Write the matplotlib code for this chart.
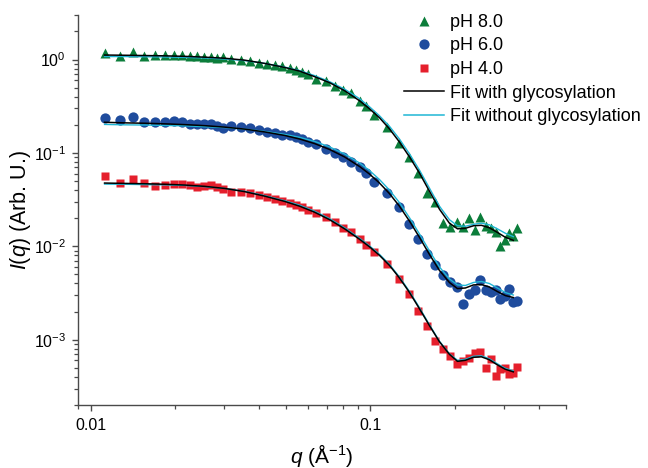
"""SAXS profiles at three pH values with form-factor fits."""

from __future__ import annotations

import matplotlib

matplotlib.use("Agg")
import matplotlib.pyplot as plt
from matplotlib.lines import Line2D
import numpy as np


# measured q grid (1/Angstrom), shared by the three pH series
Q_DATA = [
    0.0112, 0.0127, 0.0141, 0.0155, 0.0169, 0.0184, 0.0198, 0.0212, 0.0226, 0.0240,
    0.0254, 0.0268, 0.0283, 0.0297, 0.0316, 0.0345, 0.0372, 0.0401, 0.0428, 0.0457,
    0.0484, 0.0514, 0.0543, 0.0570, 0.0599, 0.0640, 0.0691, 0.0744, 0.0796, 0.0853,
    0.0914, 0.0965, 0.1033, 0.115, 0.126, 0.137, 0.148, 0.159, 0.170, 0.181,
    0.192, 0.203, 0.214, 0.225, 0.236, 0.247, 0.258, 0.269, 0.280, 0.291,
    0.302, 0.313, 0.324, 0.335,
]

I_PH8 = [
    1.175, 1.104, 1.204, 1.104, 1.132, 1.118, 1.132, 1.132, 1.104, 1.104,
    1.077, 1.077, 1.051, 1.064, 1.017, 1.000, 0.959, 0.922, 0.899, 0.869,
    0.847, 0.814, 0.781, 0.730, 0.707, 0.620, 0.594, 0.525, 0.476, 0.438,
    0.356, 0.315, 0.256, 0.190, 0.128, 0.0906, 0.0610, 0.0372, 0.0297, 0.0177,
    0.0160, 0.0181, 0.0160, 0.0200, 0.0149, 0.0205, 0.0164, 0.0156, 0.0142, 0.0100,
    0.0116, 0.0138, 0.0128, 0.0156,
]

I_PH6 = [
    0.236, 0.226, 0.240, 0.217, 0.212, 0.214, 0.221, 0.212, 0.205, 0.203,
    0.205, 0.205, 0.195, 0.184, 0.195, 0.189, 0.187, 0.174, 0.169, 0.165,
    0.156, 0.156, 0.150, 0.140, 0.132, 0.125, 0.110, 0.0993, 0.0913, 0.0806,
    0.0712, 0.0605, 0.0491, 0.0374, 0.0265, 0.0172, 0.0121, 0.0082, 0.00625, 0.00488,
    0.00410, 0.00365, 0.00242, 0.00310, 0.00337, 0.00431, 0.00337, 0.00328, 0.00337, 0.00274,
    0.00297, 0.00351, 0.00252, 0.00263,
]

I_PH4 = [
    0.0566, 0.0472, 0.0521, 0.0472, 0.0442, 0.0453, 0.0464, 0.0464, 0.0453, 0.0428,
    0.0442, 0.0453, 0.0428, 0.0407, 0.0384, 0.0384, 0.0369, 0.0354, 0.0334, 0.0318,
    0.0307, 0.0292, 0.0276, 0.0263, 0.0244, 0.0225, 0.0204, 0.0183, 0.0159, 0.0143,
    0.0121, 0.0103, 0.00869, 0.00652, 0.00450, 0.00310, 0.00205, 0.00142, 0.000976, 0.000794,
    0.000673, 0.000548, 0.000594, 0.000645, 0.000713, 0.000730, 0.000504, 0.000620, 0.000410, 0.000488,
    0.000504, 0.000428, 0.000442, 0.000513,
]

# model curves evaluated on a finer q grid
Q_FIT = [
    0.0112, 0.0132, 0.0156, 0.0184, 0.0217, 0.0255, 0.0301, 0.0355, 0.0418, 0.0493,
    0.0558, 0.0631, 0.0714, 0.0808, 0.0914, 0.0992, 0.1077, 0.1169, 0.1269, 0.1379,
    0.1496, 0.1624, 0.1764, 0.1915, 0.2046, 0.2184, 0.2333, 0.2491, 0.2661, 0.2842,
    0.3035, 0.324,
]

FIT_GLYC = {
    "8.0": [
        1.118, 1.112, 1.104, 1.096, 1.082, 1.061, 1.033, 0.985, 0.910, 0.824,
        0.752, 0.656, 0.566, 0.464, 0.362, 0.297, 0.238, 0.181, 0.131, 0.0906,
        0.0610, 0.0390, 0.0250, 0.0177, 0.0154, 0.0156, 0.0166, 0.0168, 0.0158, 0.0141,
        0.0125, 0.0116,
    ],
    "6.0": [
        0.213, 0.210, 0.208, 0.205, 0.201, 0.196, 0.189, 0.180, 0.168, 0.154,
        0.141, 0.126, 0.109, 0.0906, 0.0716, 0.0594, 0.0476, 0.0367, 0.0269, 0.0186,
        0.0125, 0.0082, 0.00552, 0.00410, 0.00353, 0.00358, 0.00386, 0.00390, 0.00367, 0.00328,
        0.00297, 0.00283,
    ],
    "4.0": [
        0.0476, 0.0472, 0.0468, 0.0462, 0.0453, 0.0439, 0.0417, 0.0385, 0.0345, 0.0303,
        0.0269, 0.0232, 0.0193, 0.0154, 0.0119, 0.00988, 0.00800, 0.00625, 0.00459, 0.00320,
        0.00215, 0.00142, 0.000951, 0.000698, 0.000587, 0.000602, 0.000648, 0.000656, 0.000610, 0.000538,
        0.000482, 0.000453,
    ],
}

FIT_NOGLYC = {
    "8.0": [
        1.077, 1.077, 1.072, 1.066, 1.056, 1.040, 1.015, 0.975, 0.910, 0.831,
        0.762, 0.673, 0.580, 0.482, 0.381, 0.312, 0.250, 0.193, 0.141, 0.0975,
        0.0656, 0.0421, 0.0269, 0.0193, 0.0166, 0.0164, 0.0172, 0.0177, 0.0170, 0.0154,
        0.0138, 0.0127,
    ],
    "6.0": [
        0.202, 0.200, 0.199, 0.197, 0.195, 0.191, 0.187, 0.180, 0.170, 0.158,
        0.147, 0.133, 0.116, 0.0975, 0.0780, 0.0648, 0.0519, 0.0400, 0.0294, 0.0202,
        0.0136, 0.00895, 0.00602, 0.00447, 0.00386, 0.00381, 0.00410, 0.00420, 0.00400, 0.00358,
        0.00320, 0.00301,
    ],
    "4.0": [
        0.0464, 0.0462, 0.0458, 0.0455, 0.0449, 0.0436, 0.0417, 0.0388, 0.0349, 0.0308,
        0.0276, 0.0238, 0.0198, 0.0158, 0.0122, 0.0101, 0.00820, 0.00640, 0.00470, 0.00328,
        0.00221, 0.00145, 0.000964, 0.000707, 0.000602, 0.000617, 0.000665, 0.000673, 0.000625, 0.000552,
        0.000494, 0.000464,
    ],
}

SERIES = [
    ("8.0", I_PH8, "^", "#0b7d3a", 7.6),
    ("6.0", I_PH6, "o", "#1f4c9d", 7.4),
    ("4.0", I_PH4, "s", "#e51f2c", 6.4),
]

FIT_COLOR = "#000000"
NOGLYC_COLOR = "#1fb6d5"
AXIS_GRAY = "#4a4a4a"


def style() -> None:
    plt.rcParams.update(
        {
            "font.family": ["Liberation Sans", "DejaVu Sans"],
            "mathtext.fontset": "custom",
            "mathtext.rm": "Liberation Sans",
            "mathtext.it": "Liberation Sans:italic",
            "mathtext.bf": "Liberation Sans:bold",
            "font.size": 11.5,
            "axes.labelsize": 15,
            "xtick.labelsize": 11.5,
            "ytick.labelsize": 11.5,
            "axes.spines.top": False,
            "axes.spines.right": False,
            "axes.edgecolor": AXIS_GRAY,
            "axes.linewidth": 1.0,
            "xtick.color": AXIS_GRAY,
            "ytick.color": AXIS_GRAY,
            "xtick.labelcolor": "black",
            "ytick.labelcolor": "black",
            "xtick.major.size": 4.5,
            "ytick.major.size": 4.5,
            "xtick.minor.size": 2.6,
            "ytick.minor.size": 2.6,
            "xtick.major.width": 1.0,
            "ytick.major.width": 1.0,
            "xtick.minor.width": 0.9,
            "ytick.minor.width": 0.9,
        }
    )


def main() -> None:
    style()
    fig = plt.figure(figsize=(6.48, 4.68), dpi=100)
    ax = fig.add_axes([78 / 648, 63 / 468, 488 / 648, 390 / 468])

    q = np.asarray(Q_DATA)
    q_fit = np.asarray(Q_FIT)
    for ph, intensity, marker, color, size in SERIES:
        ax.plot(q, intensity, linestyle="none", marker=marker, ms=size,
                color=color, mec="none", zorder=2)
    for ph, _, _, _, _ in SERIES:
        ax.plot(q_fit, FIT_NOGLYC[ph], color=NOGLYC_COLOR, lw=1.0, zorder=3)
        ax.plot(q_fit, FIT_GLYC[ph], color=FIT_COLOR, lw=1.1, zorder=4)

    ax.set_xscale("log")
    ax.set_yscale("log")
    ax.set_xlim(0.009, 0.5)
    ax.set_ylim(2e-4, 3.0)
    ax.xaxis.set_major_formatter(matplotlib.ticker.FuncFormatter(lambda v, _: f"{v:g}"))
    ax.tick_params(axis="both", which="both", direction="out")
    ax.tick_params(axis="x", which="major", pad=5)
    ax.tick_params(axis="y", which="major", pad=4)
    ax.set_xlabel(r"$q$ (Å$^{-1}$)", labelpad=6)
    ax.set_ylabel(r"$I$($q$) (Arb. U.)", fontsize=15.5, labelpad=1)

    handles = [
        Line2D([], [], linestyle="none", marker=m, ms=s, color=c, mec="none")
        for _, _, m, c, s in SERIES
    ]
    handles += [
        Line2D([], [], color=FIT_COLOR, lw=1.1),
        Line2D([], [], color=NOGLYC_COLOR, lw=1.1),
    ]
    labels = [f"pH {ph}" for ph, *_ in SERIES] + ["Fit with glycosylation", "Fit without glycosylation"]
    fig.legend(
        handles, labels,
        loc="upper left", bbox_to_anchor=(404 / 648, 1 - 14 / 468),
        bbox_transform=fig.transFigure,
        frameon=False, fontsize=13, borderpad=0, borderaxespad=0,
        handlelength=2.2, handletextpad=0.35, labelspacing=0.36,
    )

    fig.savefig("out.png", dpi=100)
    plt.close(fig)


if __name__ == "__main__":
    main()
